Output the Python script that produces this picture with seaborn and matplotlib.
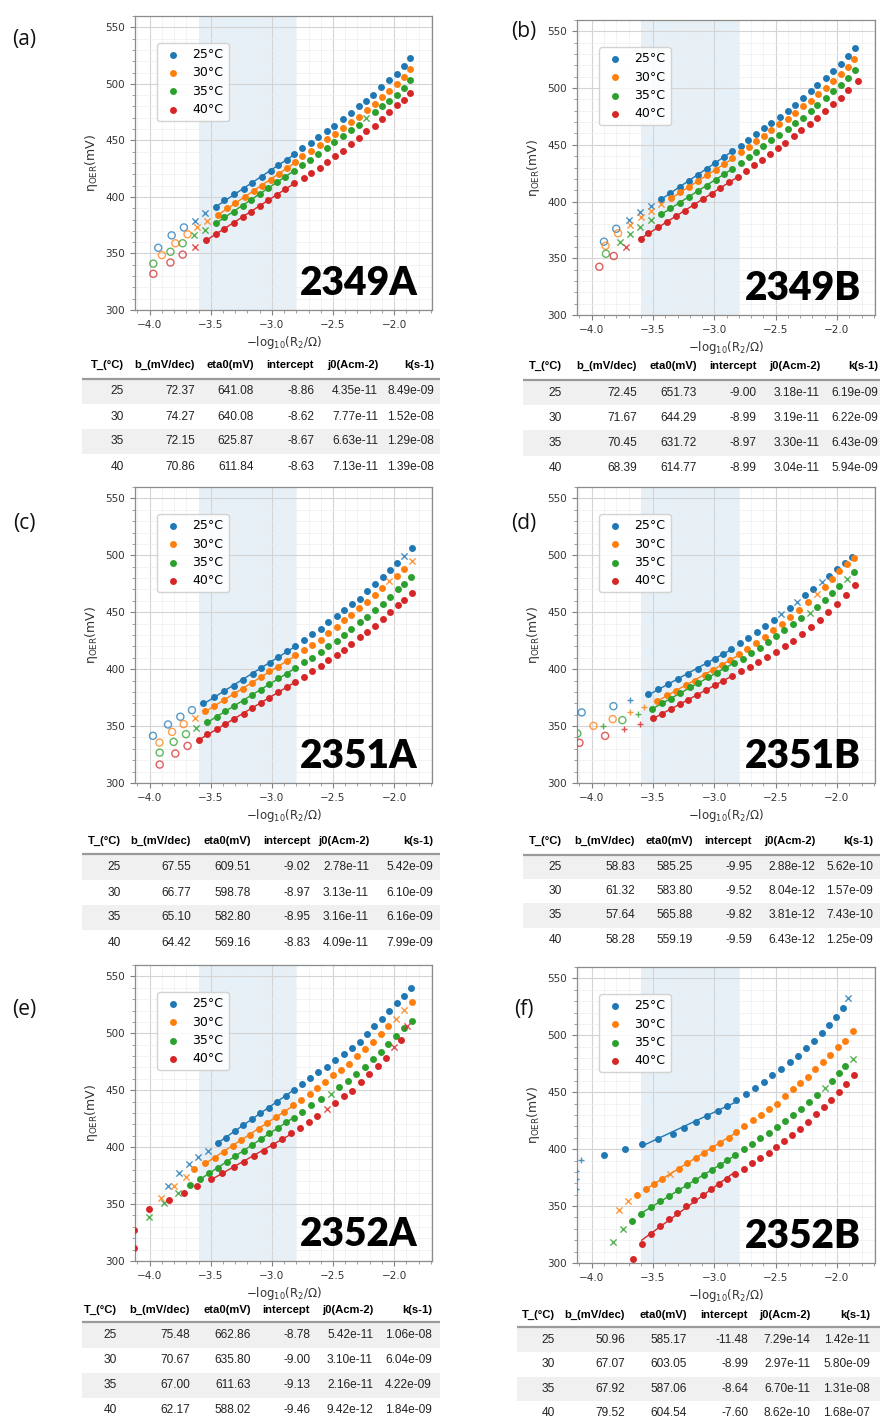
import matplotlib
matplotlib.use("Agg")
import numpy as np
import pandas as pd
import matplotlib.pyplot as plt
import seaborn as sns
from matplotlib.patches import Rectangle
from matplotlib.ticker import MultipleLocator

# ------------------------------------------------------------------ data
TEMPS = [25, 30, 35, 40]
TEMP_LABELS = ["25°C", "30°C", "35°C", "40°C"]
SAMPLES = ["2349A", "2349B", "2351A", "2351B", "2352A", "2352B"]
TAGS = ["(a)", "(b)", "(c)", "(d)", "(e)", "(f)"]
X_TICKS = [-4.0, -3.5, -3.0, -2.5, -2.0]
Y_TICKS = [300, 350, 400, 450, 500, 550]
FIT_LO, FIT_HI = -3.6, -2.8
HEADERS = ["T_(°C)", "b_(mV/dec)", "eta0(mV)", "intercept", "j0(Acm-2)", "k(s-1)"]
# marker flags: o = fitted/used point, h = open circle, x = cross, + = plus

# ---- 2349A
a25_x = [-3.93, -3.82, -3.72, -3.63, -3.55, -3.46, -3.39, -3.31, -3.23, -3.16, -3.08, -3.01, -2.95, -2.88, -2.82, -2.75, -2.68, -2.62, -2.55, -2.49, -2.42, -2.35, -2.29, -2.23, -2.17, -2.11, -2.04, -1.98, -1.92, -1.87]
a25_y = [355, 366, 373, 379, 386, 391, 397, 403, 407, 412, 418, 423, 428, 433, 438, 443, 448, 453, 458, 463, 469, 474, 480, 485, 490, 497, 503, 509, 516, 523]
a25_m = "hhhxx" + "o" * 25
a30_x = [-3.90, -3.79, -3.69, -3.61, -3.53, -3.44, -3.37, -3.30, -3.22, -3.15, -3.08, -3.01, -2.94, -2.88, -2.81, -2.75, -2.68, -2.61, -2.55, -2.48, -2.42, -2.35, -2.29, -2.22, -2.16, -2.10, -2.04, -1.98, -1.92, -1.87]
a30_y = [348.5, 359, 367, 373, 379, 384, 390, 395, 400, 405, 410, 415, 420, 426, 431, 436, 441, 446, 451, 456, 461, 466, 471, 477, 482, 488, 494, 500, 506, 513]
a30_m = "hhhxx" + "o" * 25
a35_x = [-3.97, -3.83, -3.73, -3.64, -3.55, -3.46, -3.39, -3.31, -3.24, -3.17, -3.10, -3.03, -2.96, -2.89, -2.82, -2.75, -2.69, -2.62, -2.55, -2.49, -2.42, -2.35, -2.29, -2.23, -2.16, -2.10, -2.04, -1.98, -1.92, -1.87]
a35_y = [341, 351.5, 359, 366, 371, 377, 382, 387, 392, 397, 403, 408, 413, 418, 423, 428, 433, 438, 443, 449, 454, 459, 464, 470, 475, 480, 485, 490, 496, 503]
a35_m = "hhhxx" + "o" * 18 + "x" + "o" * 6
a40_x = [-3.97, -3.83, -3.73, -3.63, -3.54, -3.46, -3.39, -3.31, -3.24, -3.17, -3.10, -3.03, -2.96, -2.89, -2.82, -2.74, -2.68, -2.61, -2.55, -2.48, -2.42, -2.35, -2.29, -2.23, -2.16, -2.10, -2.04, -1.98, -1.92, -1.87]
a40_y = [332, 342, 349, 356, 362, 367, 372, 377, 382, 387, 392, 397, 402, 407, 412, 417, 421, 426, 431, 436, 441, 447, 452, 458, 463, 469, 475, 481, 486, 492]
a40_m = "hhhx" + "o" * 26

# ---- 2349B
b25_x = [-3.90, -3.80, -3.70, -3.605, -3.52, -3.435, -3.358, -3.282, -3.207, -3.134, -3.059, -2.992, -2.925, -2.858, -2.785, -2.723, -2.661, -2.597, -2.535, -2.468, -2.401, -2.339, -2.280, -2.212, -2.159, -2.091, -2.030, -1.970, -1.911, -1.855]
b25_y = [364.6, 376, 383.6, 390.4, 396.2, 402.1, 407.7, 413.0, 418.3, 423.6, 428.5, 434.1, 439.4, 444.4, 449.1, 454.3, 459.3, 464.6, 469.6, 474.6, 480.2, 485.4, 491.0, 497.2, 502.8, 508.9, 514.8, 521.5, 528.3, 535.3]
b25_m = "hhxxx" + "o" * 25
b30_x = [-3.887, -3.785, -3.69, -3.602, -3.516, -3.435, -3.355, -3.28, -3.205, -3.13, -3.06, -2.99, -2.92, -2.855, -2.785, -2.72, -2.66, -2.595, -2.535, -2.47, -2.40, -2.34, -2.28, -2.21, -2.155, -2.09, -2.03, -1.97, -1.91, -1.86]
b30_y = [361, 372, 379, 386.6, 392, 397.7, 403, 408, 413, 418, 423, 428, 433, 438, 444, 448, 453, 458, 463, 468, 473, 478, 484, 489, 495, 500, 506, 512, 519, 526]
b30_m = "hhxxxx" + "o" * 24
b35_x = [-3.884, -3.771, -3.685, -3.605, -3.516, -3.435, -3.36, -3.28, -3.21, -3.135, -3.06, -2.99, -2.925, -2.86, -2.785, -2.72, -2.66, -2.60, -2.535, -2.47, -2.40, -2.34, -2.28, -2.21, -2.16, -2.09, -2.03, -1.97, -1.91, -1.855]
b35_y = [354, 364.6, 371.3, 377.8, 383.6, 389, 394, 399, 404, 409, 414, 419, 424, 429, 434, 439, 444, 449, 454, 459, 464, 469, 474, 480, 485, 491, 497, 503, 509, 516]
b35_m = "hxxxx" + "o" * 25
b40_x = [-3.938, -3.82, -3.723, -3.598, -3.54, -3.46, -3.39, -3.31, -3.24, -3.17, -3.09, -3.02, -2.95, -2.88, -2.81, -2.74, -2.68, -2.61, -2.55, -2.48, -2.42, -2.35, -2.29, -2.22, -2.16, -2.10, -2.03, -1.97, -1.91, -1.83]
b40_y = [342.5, 352, 360, 367, 372, 378, 382, 387, 392, 397, 402, 407, 412, 417, 422, 427, 432, 437, 442, 447, 452, 458, 463, 468, 474, 480, 486, 491, 498, 506]
b40_m = "hhx" + "o" * 27

# ---- 2351A
c25_x = [-3.973, -3.85, -3.749, -3.654, -3.567, -3.477, -3.39, -3.313, -3.237, -3.158, -3.087, -3.019, -2.946, -2.877, -2.809, -2.736, -2.668, -2.60, -2.537, -2.469, -2.414, -2.346, -2.283, -2.223, -2.155, -2.093, -2.033, -1.973, -1.916, -1.856]
c25_y = [341.4, 351.4, 358.2, 364.0, 369.9, 375.2, 380.8, 385.5, 390.5, 395.8, 400.8, 405.5, 410.8, 415.7, 420.7, 426.0, 430.7, 435.7, 441.0, 446.6, 451.6, 457.2, 461.9, 468.3, 474.8, 481.0, 486.8, 493.3, 499.8, 506.5]
c25_m = "hhhh" + "o" * 24 + "x" + "o"
c30_x = [-3.92, -3.817, -3.722, -3.629, -3.545, -3.47, -3.39, -3.31, -3.24, -3.16, -3.09, -3.02, -2.95, -2.88, -2.81, -2.74, -2.67, -2.60, -2.54, -2.47, -2.41, -2.35, -2.29, -2.22, -2.16, -2.10, -2.04, -1.98, -1.92, -1.85]
c30_y = [335.5, 344.9, 351.7, 357.3, 363, 368, 373, 378, 383, 388, 393, 398, 402, 407, 412, 417, 421, 426, 432, 437, 443, 448, 454, 459, 465, 471, 477, 482, 488, 495]
c30_m = "hhhx" + "o" * 22 + "x" + "oo" + "x"
c35_x = [-3.918, -3.804, -3.703, -3.619, -3.53, -3.45, -3.38, -3.31, -3.23, -3.16, -3.09, -3.02, -2.95, -2.88, -2.81, -2.74, -2.67, -2.60, -2.54, -2.47, -2.41, -2.35, -2.28, -2.22, -2.16, -2.09, -2.03, -1.97, -1.92, -1.86]
c35_y = [326.7, 336.1, 342.9, 348.5, 354, 358, 363, 368, 372, 377, 382, 387, 392, 396, 401, 406, 410, 415, 420, 425, 430, 435, 441, 446, 452, 457, 463, 470, 475, 481]
c35_m = "hhhx" + "o" * 26
c40_x = [-3.918, -3.79, -3.69, -3.598, -3.53, -3.45, -3.38, -3.31, -3.23, -3.16, -3.09, -3.02, -2.95, -2.88, -2.81, -2.74, -2.67, -2.60, -2.54, -2.47, -2.41, -2.35, -2.28, -2.22, -2.16, -2.09, -2.03, -1.97, -1.92, -1.85]
c40_y = [316.2, 325.9, 332.6, 338, 343, 347, 352, 356, 361, 366, 370, 375, 380, 384, 389, 393, 398, 403, 408, 412, 417, 422, 428, 433, 438, 444, 450, 456, 461, 467]
c40_m = "hhh" + "o" * 27

# ---- 2351B
d25_x = [-4.082, -3.823, -3.687, -3.537, -3.456, -3.374, -3.293, -3.211, -3.137, -3.061, -2.993, -2.931, -2.865, -2.79, -2.729, -2.653, -2.585, -2.517, -2.457, -2.386, -2.327, -2.259, -2.196, -2.122, -2.068, -2.0, -1.937, -1.878]
d25_y = [362, 367.5, 372.8, 378, 382.5, 387, 391.5, 396, 400.5, 405, 409, 413.5, 418, 423, 427.5, 433, 438, 443, 448.4, 454, 459, 465.4, 470.7, 476.6, 481.6, 488, 493.3, 498.6]
d25_m = "hh+" + "o" * 15 + "xoxooxoooo"
d30_x = [-3.986, -3.829, -3.687, -3.573, -3.47, -3.39, -3.31, -3.23, -3.16, -3.08, -3.01, -2.94, -2.87, -2.80, -2.73, -2.66, -2.59, -2.52, -2.45, -2.38, -2.31, -2.24, -2.16, -2.10, -2.04, -1.98, -1.92, -1.86]
d30_y = [350.2, 356.1, 362, 367, 372, 377, 381, 386, 390, 395, 399, 404, 408, 413, 418, 423, 428, 434, 440, 446, 452, 459, 466, 472, 479, 486, 492, 498]
d30_m = "hh++" + "o" * 18 + "x" + "o" * 5
d35_x = [-4.117, -3.905, -3.75, -3.624, -3.505, -3.43, -3.35, -3.28, -3.20, -3.13, -3.05, -2.98, -2.91, -2.84, -2.77, -2.70, -2.63, -2.56, -2.50, -2.43, -2.36, -2.29, -2.22, -2.16, -2.10, -2.04, -1.98, -1.92, -1.86]
d35_y = [343.5, 349.9, 355.2, 360.2, 365, 370, 374, 379, 384, 388, 393, 397, 401, 405, 409, 414, 419, 424, 429, 434, 440, 445, 449, 455, 461, 467, 473, 479, 485]
d35_m = "h+h+" + "o" * 18 + "x" + "oooo" + "x" + "o"
d40_x = [-4.10, -3.891, -3.733, -3.605, -3.497, -3.426, -3.354, -3.283, -3.212, -3.140, -3.069, -2.998, -2.926, -2.855, -2.784, -2.712, -2.641, -2.570, -2.498, -2.427, -2.356, -2.284, -2.213, -2.142, -2.070, -1.999, -1.928, -1.856]
d40_y = [335.3, 341.4, 347, 351.7, 357, 361, 365, 369, 373, 377, 382, 386, 390, 394, 398, 402, 406, 411, 415, 420, 425, 431, 437, 443, 450, 457, 465, 474]
d40_m = "hh++" + "o" * 24

# ---- 2352A
e25_x = [-3.85, -3.757, -3.681, -3.605, -3.526, -3.444, -3.376, -3.305, -3.234, -3.163, -3.095, -3.025, -2.959, -2.888, -2.817, -2.755, -2.687, -2.619, -2.55, -2.482, -2.414, -2.346, -2.283, -2.223, -2.161, -2.101, -2.038, -1.978, -1.916, -1.861]
e25_y = [366.2, 377.1, 385, 391.1, 396.7, 403.5, 408.4, 414.3, 419.6, 424.6, 429.8, 434.8, 440.1, 445.1, 450.4, 455.3, 460.6, 465.6, 470.3, 476.7, 482.0, 487.0, 492.0, 499.6, 506.0, 512.5, 519.2, 526.6, 533.0, 539.7]
e25_m = "xxxxx" + "o" * 25
e30_x = [-3.907, -3.798, -3.703, -3.64, -3.545, -3.469, -3.395, -3.319, -3.251, -3.177, -3.109, -3.041, -2.970, -2.899, -2.831, -2.763, -2.692, -2.632, -2.564, -2.496, -2.433, -2.365, -2.300, -2.237, -2.169, -2.106, -2.046, -1.986, -1.916, -1.856]
e30_y = [355.7, 366.2, 374.1, 380.6, 386.5, 390.9, 396.1, 401.4, 406.4, 410.8, 415.8, 421.0, 426.3, 431.3, 436.6, 441.6, 446.9, 451.8, 457.1, 463.0, 468.0, 473.2, 479.7, 486.1, 492.8, 499.6, 506.0, 512.5, 520.1, 527.1]
e30_m = "xxx" + "o" * 24 + "xx" + "o"
e35_x = [-4.008, -3.88, -3.771, -3.673, -3.59, -3.515, -3.44, -3.37, -3.30, -3.23, -3.16, -3.09, -3.02, -2.95, -2.885, -2.82, -2.75, -2.68, -2.60, -2.515, -2.45, -2.38, -2.31, -2.24, -2.17, -2.11, -2.05, -1.986, -1.916, -1.856]
e35_y = [339, 350.7, 359.5, 366.5, 372, 377, 382, 387, 392, 397, 402, 407, 412, 417, 422, 426, 431, 437, 442, 447, 453, 458, 464, 470, 477, 484, 491, 498, 505, 511]
e35_m = "xxx" + "o" * 16 + "x" + "o" * 10
e40_x = [-4.125, -4.125, -4.008, -3.845, -3.722, -3.613, -3.499, -3.409, -3.313, -3.232, -3.150, -3.068, -2.992, -2.918, -2.842, -2.774, -2.700, -2.627, -2.550, -2.482, -2.414, -2.346, -2.270, -2.202, -2.134, -2.068, -2.0, -1.943, -1.891]
e40_y = [327, 311, 346, 353.6, 359.5, 365.9, 371.8, 377.1, 382.4, 387.3, 392.3, 397.0, 402.0, 407.0, 412.3, 417.2, 422.5, 427.8, 433.9, 439.2, 444.5, 449.5, 457.1, 464.1, 471.7, 478.5, 487.6, 494.3, 506.0]
e40_m = "o" * 18 + "x" + "o" * 7 + "xox"

# ---- 2352B
f25_x = [-4.125, -4.125, -4.125, -4.09, -3.899, -3.728, -3.592, -3.461, -3.341, -3.244, -3.148, -3.061, -2.971, -2.893, -2.822, -2.740, -2.667, -2.599, -2.528, -2.457, -2.386, -2.318, -2.250, -2.190, -2.122, -2.063, -2.008, -1.951, -1.913]
f25_y = [380.6, 373.6, 365.4, 390.3, 394.7, 399.9, 404.9, 409.3, 413.7, 419.0, 424.0, 429.0, 433.6, 438.0, 443.6, 448.3, 453.3, 459.4, 465.3, 470.3, 476.4, 482.0, 489.0, 494.9, 502.2, 508.7, 516.3, 524.2, 532.4]
f25_m = "++++" + "o" * 24 + "x"
f30_x = [-3.777, -3.701, -3.633, -3.559, -3.491, -3.423, -3.361, -3.287, -3.219, -3.151, -3.088, -3.02, -2.952, -2.884, -2.822, -2.756, -2.688, -2.620, -2.552, -2.490, -2.427, -2.362, -2.299, -2.237, -2.177, -2.117, -2.054, -1.995, -1.932, -1.872]
f30_y = [346.3, 354.5, 360.1, 364.8, 369.8, 374.2, 378.5, 382.9, 387.9, 392.3, 396.7, 401.1, 405.5, 410.2, 415.2, 420.2, 425.4, 429.8, 435.1, 440.1, 446.5, 452.4, 457.7, 463.5, 470.0, 476.7, 482.6, 489.3, 495.2, 503.7]
f30_m = "xx" + "oooo" + "x" + "o" * 23
f35_x = [-3.829, -3.747, -3.671, -3.595, -3.518, -3.442, -3.366, -3.293, -3.224, -3.156, -3.088, -3.020, -2.952, -2.893, -2.830, -2.762, -2.694, -2.626, -2.558, -2.490, -2.422, -2.359, -2.291, -2.231, -2.163, -2.10, -2.041, -1.986, -1.932, -1.872]
f35_y = [318.5, 330.2, 336.9, 343.4, 349.2, 354.5, 358.9, 363.9, 368.3, 372.7, 377.1, 381.5, 385.9, 390.3, 395.3, 399.9, 404.9, 409.9, 414.6, 419.6, 424.6, 429.8, 435.7, 441.0, 447.4, 453.9, 460.0, 466.5, 472.9, 478.8]
f35_m = "xx" + "o" * 23 + "x" + "ooo" + "x"
f40_x = [-3.665, -3.592, -3.516, -3.442, -3.369, -3.301, -3.233, -3.162, -3.094, -3.029, -2.961, -2.898, -2.830, -2.762, -2.694, -2.626, -2.558, -2.495, -2.430, -2.367, -2.305, -2.237, -2.171, -2.109, -2.046, -1.986, -1.924, -1.859]
f40_y = [303.8, 317.0, 325.2, 332.5, 339.0, 344.3, 350.1, 355.1, 360.1, 364.8, 369.2, 373.6, 378.5, 382.4, 387.9, 392.6, 397.0, 402.0, 407.0, 412.3, 418.1, 424.0, 430.7, 437.2, 443.6, 450.4, 456.8, 465.0]
f40_m = "o" * 28

# ---- fit tables
a_b = [72.37, 74.27, 72.15, 70.86]
a_eta0 = [641.08, 640.08, 625.87, 611.84]
a_int = [-8.86, -8.62, -8.67, -8.63]
a_j0 = [4.35e-11, 7.77e-11, 6.63e-11, 7.13e-11]
a_k = [8.49e-09, 1.52e-08, 1.29e-08, 1.39e-08]
b_b = [72.45, 71.67, 70.45, 68.39]
b_eta0 = [651.73, 644.29, 631.72, 614.77]
b_int = [-9.00, -8.99, -8.97, -8.99]
b_j0 = [3.18e-11, 3.19e-11, 3.30e-11, 3.04e-11]
b_k = [6.19e-09, 6.22e-09, 6.43e-09, 5.94e-09]
c_b = [67.55, 66.77, 65.10, 64.42]
c_eta0 = [609.51, 598.78, 582.80, 569.16]
c_int = [-9.02, -8.97, -8.95, -8.83]
c_j0 = [2.78e-11, 3.13e-11, 3.16e-11, 4.09e-11]
c_k = [5.42e-09, 6.10e-09, 6.16e-09, 7.99e-09]
d_b = [58.83, 61.32, 57.64, 58.28]
d_eta0 = [585.25, 583.80, 565.88, 559.19]
d_int = [-9.95, -9.52, -9.82, -9.59]
d_j0 = [2.88e-12, 8.04e-12, 3.81e-12, 6.43e-12]
d_k = [5.62e-10, 1.57e-09, 7.43e-10, 1.25e-09]
e_b = [75.48, 70.67, 67.00, 62.17]
e_eta0 = [662.86, 635.80, 611.63, 588.02]
e_int = [-8.78, -9.00, -9.13, -9.46]
e_j0 = [5.42e-11, 3.10e-11, 2.16e-11, 9.42e-12]
e_k = [1.06e-08, 6.04e-09, 4.22e-09, 1.84e-09]
f_b = [50.96, 67.07, 67.92, 79.52]
f_eta0 = [585.17, 603.05, 587.06, 604.54]
f_int = [-11.48, -8.99, -8.64, -7.60]
f_j0 = [7.29e-14, 2.97e-11, 6.70e-11, 8.62e-10]
f_k = [1.42e-11, 5.80e-09, 1.31e-08, 1.68e-07]

# ------------------------------------------------------------------ figure
plt.rcParams["font.family"] = ["DejaVu Sans"]
PALETTE = sns.color_palette("tab10", 4)
W, H = 881, 1423
fig = plt.figure(figsize=(W / 100, H / 100), dpi=100)


def px_axes(l, t, r, b):
    return fig.add_axes([l / W, 1 - b / H, (r - l) / W, (b - t) / H])


tax = px_axes(0, 0, W, H)
tax.set_xlim(0, W)
tax.set_ylim(H, 0)
tax.axis("off")

STYLE = {
    "h": dict(marker="o", s=26, facecolor="none", linewidth=1.0, alpha=0.75),
    "x": dict(marker="x", s=20, linewidth=1.0, alpha=0.8),
    "+": dict(marker="+", s=24, linewidth=1.0, alpha=0.8),
}


def draw_panel(ax, series, sample):
    ax.axvspan(FIT_LO, FIT_HI, color=PALETTE[0], alpha=0.11, lw=0, zorder=0)
    for (xs, ys, ms), col, lab in zip(series, PALETTE, TEMP_LABELS):
        df = pd.DataFrame({"x": xs, "y": ys, "m": list(ms)})
        ok = df[df.m == "o"]
        sns.scatterplot(data=ok, x="x", y="y", ax=ax, color=col, s=25,
                        linewidth=0, label=lab, zorder=3, legend=False)
        for key, st in STYLE.items():
            sub = df[df.m == key]
            if len(sub):
                extra = dict(edgecolor=col) if key == "h" else {}
                sns.scatterplot(data=sub, x="x", y="y", ax=ax, color=col,
                                zorder=3, legend=False, **st, **extra)
        fit = ok[(ok.x >= FIT_LO) & (ok.x <= FIT_HI)]
        sns.regplot(data=fit, x="x", y="y", ax=ax, scatter=False, ci=None,
                    truncate=True, color=col, line_kws=dict(lw=1.0, zorder=2))
    ax.set_xlim(-4.12, -1.69)
    ax.set_ylim(300, 560)
    ax.set_xticks(X_TICKS)
    ax.set_yticks(Y_TICKS)
    ax.xaxis.set_minor_locator(MultipleLocator(0.1))
    ax.yaxis.set_minor_locator(MultipleLocator(10))
    ax.grid(True, which="major", color="#d4d4d4", lw=0.8)
    ax.grid(True, which="minor", color="#eeeeee", lw=0.5)
    ax.set_axisbelow(True)
    ax.tick_params(which="major", labelsize=7.5, length=3.5, width=0.8,
                   color="#808080", labelcolor="#333333")
    ax.tick_params(which="minor", length=2, width=0.6, color="#909090")
    for sp in ax.spines.values():
        sp.set_color("#8c8c8c")
        sp.set_linewidth(0.9)
    ax.set_xlabel(r"$\mathregular{-log_{10}(R_2/Ω)}$", fontsize=8.5,
                  color="#333333", labelpad=3)
    ax.set_ylabel(r"$\mathregular{η_{OER}}$(mV)", fontsize=9,
                  color="#333333", labelpad=4)
    ax.legend(loc="upper left", bbox_to_anchor=(22 / 297, 1 - 27 / 294),
              borderaxespad=0, fontsize=9, handletextpad=0.7,
              labelspacing=0.42, borderpad=0.42, framealpha=0.85,
              edgecolor="#cccccc", handlelength=1.7)
    ax.text(0.952, 0.05, sample, transform=ax.transAxes, ha="right",
            va="baseline", fontsize=28, fontweight="heavy", family="Lato",
            color="black", zorder=6)


def draw_table(geom, b, eta0, icpt, j0, k):
    x0, x1, hy, ly, rows, rights = geom
    rh = rows[1] - rows[0]
    for i, ry in enumerate(rows):
        if i % 2 == 0:
            tax.add_patch(Rectangle((x0, ry - rh / 2), x1 - x0, rh,
                                    facecolor="#f0f0f0", edgecolor="none"))
    tax.plot([x0, x1], [ly, ly], color="#9a9a9a", lw=1.6,
             solid_capstyle="butt")
    for h, r in zip(HEADERS, rights):
        tax.text(r, hy, h, ha="right", va="center", fontsize=8.1,
                 fontweight="bold", family="Liberation Sans", color="black")
    for i, ry in enumerate(rows):
        vals = [f"{TEMPS[i]}", f"{b[i]:.2f}", f"{eta0[i]:.2f}",
                f"{icpt[i]:.2f}", f"{j0[i]:.2e}", f"{k[i]:.2e}"]
        for v, r in zip(vals, rights):
            tax.text(r, ry, v, ha="right", va="center", fontsize=8.6,
                     family="Liberation Sans", color="#222222")


PANELS = [
    dict(box=(135, 16, 432, 310), tag=(24, 39),
         series=[(a25_x, a25_y, a25_m), (a30_x, a30_y, a30_m), (a35_x, a35_y, a35_m), (a40_x, a40_y, a40_m)],
         table=(a_b, a_eta0, a_int, a_j0, a_k),
         geom=(82, 440, 365, 379, [391.5, 416.5, 441.5, 466.5], [124, 195, 254, 314, 378, 434])),
    dict(box=(577, 20, 875, 315), tag=(524, 32),
         series=[(b25_x, b25_y, b25_m), (b30_x, b30_y, b30_m), (b35_x, b35_y, b35_m), (b40_x, b40_y, b40_m)],
         table=(b_b, b_eta0, b_int, b_j0, b_k),
         geom=(523, 880, 366, 380, [392.5, 418, 443, 468], [562, 637, 697, 757, 820, 878])),
    dict(box=(135, 487, 432, 783), tag=(24, 524),
         series=[(c25_x, c25_y, c25_m), (c30_x, c30_y, c30_m), (c35_x, c35_y, c35_m), (c40_x, c40_y, c40_m)],
         table=(c_b, c_eta0, c_int, c_j0, c_k),
         geom=(82, 440, 841, 854, [867.5, 892.5, 917.5, 942.5], [121, 191, 251, 311, 369, 433])),
    dict(box=(577, 487, 875, 783), tag=(524, 524),
         series=[(d25_x, d25_y, d25_m), (d30_x, d30_y, d30_m), (d35_x, d35_y, d35_m), (d40_x, d40_y, d40_m)],
         table=(d_b, d_eta0, d_int, d_j0, d_k),
         geom=(523, 880, 841, 855, [866.5, 891, 915.5, 940], [562, 635, 693, 752, 815, 873])),
    dict(box=(135, 965, 432, 1261), tag=(24, 1009),
         series=[(e25_x, e25_y, e25_m), (e30_x, e30_y, e30_m), (e35_x, e35_y, e35_m), (e40_x, e40_y, e40_m)],
         table=(e_b, e_eta0, e_int, e_j0, e_k),
         geom=(82, 440, 1310, 1322, [1335, 1360, 1385, 1410], [117, 190, 251, 310, 373, 432])),
    dict(box=(577, 967, 875, 1263), tag=(524, 1010),
         series=[(f25_x, f25_y, f25_m), (f30_x, f30_y, f30_m), (f35_x, f35_y, f35_m), (f40_x, f40_y, f40_m)],
         table=(f_b, f_eta0, f_int, f_j0, f_k),
         geom=(517, 880, 1315, 1327, [1340, 1364, 1388.5, 1413], [555, 625, 687, 748, 810, 870])),
]

for p, sample, tag in zip(PANELS, SAMPLES, TAGS):
    ax = px_axes(*p["box"])
    draw_panel(ax, p["series"], sample)
    draw_table(p["geom"], *p["table"])
    fig.text(p["tag"][0] / W, 1 - p["tag"][1] / H, tag, fontsize=15,
             ha="center", va="center", family="Open Sans", color="#111111")

fig.savefig("out.png", dpi=100)
